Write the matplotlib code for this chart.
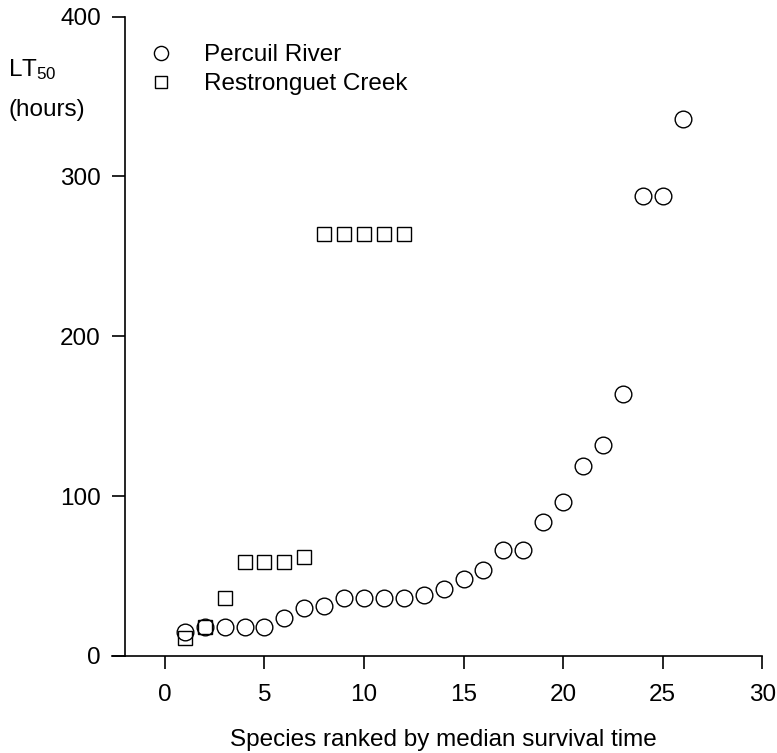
import matplotlib
matplotlib.use("Agg")
import matplotlib.pyplot as plt

plt.rcParams['font.family'] = ['Liberation Sans', 'DejaVu Sans']
plt.rcParams['mathtext.fontset'] = 'custom'
plt.rcParams['mathtext.rm'] = 'Liberation Sans'
plt.rcParams['mathtext.it'] = 'Liberation Sans'

# species rank and LT50 (hours)
percuil_rank = list(range(1, 27))
percuil_lt50 = [15, 18, 18, 18, 18, 24, 30, 31, 36, 36, 36, 36, 38, 42, 48, 54,
                66, 66, 84, 96, 119, 132, 164, 288, 288, 336]

restronguet_rank = list(range(1, 13))
restronguet_lt50 = [11, 18, 36, 59, 59, 59, 62, 264, 264, 264, 264, 264]

FS = 17.5
W, H = 777, 753

fig = plt.figure(figsize=(W / 100, H / 100), dpi=100)
ax = fig.add_axes([0.161, 0.129, 0.82, 0.849])

ax.plot(percuil_rank, percuil_lt50, 'o', ms=12, mfc='none', mec='black', mew=1.0,
        label='Percuil River', clip_on=False)
ax.plot(restronguet_rank, restronguet_lt50, 's', ms=10.5, mfc='none', mec='black', mew=1.0,
        label='Restronguet Creek', clip_on=False)

ax.set_xlim(-2, 30)
ax.set_ylim(0, 400)
ax.set_xticks([0, 5, 10, 15, 20, 25, 30])
ax.set_yticks([0, 100, 200, 300, 400])

ax.spines['top'].set_visible(False)
ax.spines['right'].set_visible(False)
for s in ['left', 'bottom']:
    ax.spines[s].set_linewidth(1.2)
ax.tick_params(direction='out', length=9.5, width=1.2, labelsize=FS)
ax.tick_params(axis='y', pad=8)
ax.tick_params(axis='x', pad=10.5)

# little stub of the x axis left of the y axis
ax.plot([-0.02, 0], [0, 0], color='black', lw=1.2, transform=ax.transAxes, clip_on=False)

ax.set_xlabel('Species ranked by median survival time', fontsize=FS, labelpad=17)

fig.text(8 / W, 1 - 70 / H, 'LT$_{50}$', fontsize=FS, va='center', ha='left')
fig.text(8 / W, 1 - 110 / H, '(hours)', fontsize=FS, va='center', ha='left')

ax.legend(loc='upper left', bbox_to_anchor=(137 / W, 1 - 44 / H), bbox_transform=fig.transFigure,
          frameon=False, fontsize=FS, handlelength=2.0, handletextpad=0.75,
          labelspacing=0.3, borderaxespad=0, borderpad=0, markerscale=0.85)

fig.savefig('out.png', dpi=100)
